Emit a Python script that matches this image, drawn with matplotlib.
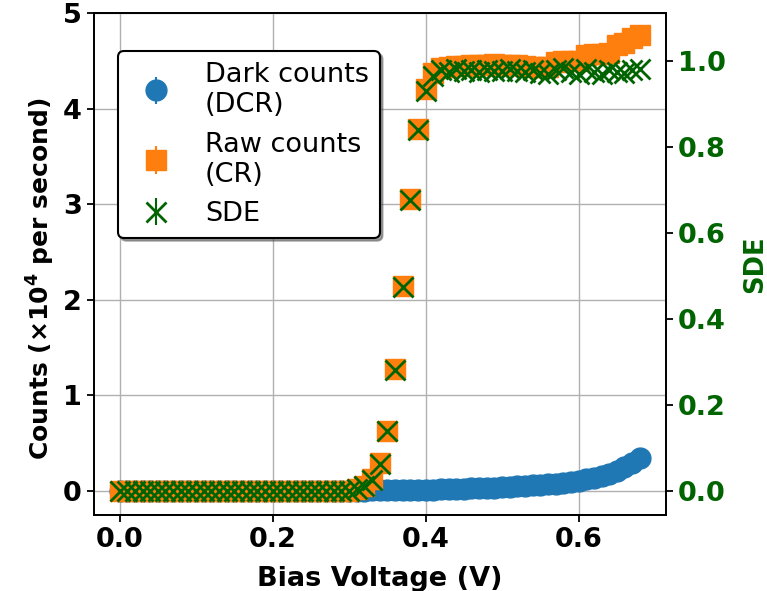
import numpy as np
import matplotlib
matplotlib.use('Agg')
import matplotlib.pyplot as plt

# bias sweep, 10 mV steps
bias_v = np.linspace(0.0, 0.68, 69)

# counts in units of 1e4 per second
dark_counts = [0.0] * 31 + [
    0.002, 0.003, 0.004, 0.005, 0.006, 0.007, 0.008, 0.009, 0.010, 0.012,
    0.014, 0.016, 0.018, 0.020, 0.022, 0.025, 0.028, 0.031, 0.035, 0.039,
    0.043, 0.047, 0.052, 0.057, 0.062, 0.068, 0.076, 0.085, 0.095, 0.106,
    0.120, 0.136, 0.155, 0.177, 0.203, 0.250, 0.290, 0.340,
]
raw_counts = [0.0] * 31 + [
    0.02, 0.05, 0.12, 0.29, 0.63, 1.27, 2.14, 3.05, 3.79, 4.20,
    4.37, 4.42, 4.44, 4.45, 4.45, 4.46, 4.46, 4.46, 4.47, 4.46,
    4.46, 4.46, 4.45, 4.43, 4.43, 4.44, 4.49, 4.50, 4.50, 4.50,
    4.56, 4.57, 4.57, 4.58, 4.67, 4.69, 4.74, 4.77,
]
sde = [0.0] * 31 + [
    0.004, 0.011, 0.026, 0.063, 0.139, 0.281, 0.474, 0.676, 0.840, 0.930,
    0.965, 0.978, 0.975, 0.980, 0.976, 0.978, 0.975, 0.979, 0.977, 0.976,
    0.980, 0.977, 0.975, 0.978, 0.972, 0.970, 0.978, 0.983, 0.975, 0.970,
    0.980, 0.975, 0.970, 0.978, 0.975, 0.972, 0.978, 0.982,
]

plt.rcParams['font.size'] = 19.5

fig, ax = plt.subplots(figsize=(7.67, 5.91), dpi=100)
fig.subplots_adjust(left=0.122, right=0.868, top=0.978, bottom=0.129)

l1 = ax.errorbar(bias_v, dark_counts, yerr=0, fmt='o', ms=15, color='C0',
                 label='Dark counts\n(DCR)')
l2 = ax.errorbar(bias_v, raw_counts, yerr=0, fmt='s', ms=15, color='C1',
                 label='Raw counts\n(CR)')
ax.set_ylim(-0.25, 5.0)
ax.set_xlabel('Bias Voltage (V)', fontweight='bold', labelpad=10)
ax.set_ylabel(r'Counts ($\mathbf{\times 10^4}$ per second)', fontweight='bold',
              fontsize=18)
ax.yaxis.label.set_y(0.47)
ax.grid(True, color='#b0b0b0', lw=1)
ax.set_axisbelow(True)

ax2 = ax.twinx()
l3 = ax2.errorbar(bias_v, sde, yerr=0, fmt='x', ms=15, mew=2, color='darkgreen',
                  label='SDE')
ax2.set_ylim(np.array(ax.get_ylim()) / 4.5)
ax2.set_ylabel('SDE', color='darkgreen', fontweight='bold', labelpad=12,
               fontsize=18.5)

for a in (ax, ax2):
    for lab in a.get_xticklabels() + a.get_yticklabels():
        lab.set_fontweight('bold')
    for sp in a.spines.values():
        sp.set_linewidth(1.3)
    a.tick_params(width=1.3, length=5)
for lab in ax2.get_yticklabels():
    lab.set_color('darkgreen')

leg = ax2.legend([l1, l2, l3], [l1.get_label(), l2.get_label(), l3.get_label()],
                 loc='upper left', bbox_to_anchor=(0.043, 0.924), borderaxespad=0,
                 shadow=True, fancybox=True, framealpha=1, edgecolor='black')
leg.get_frame().set_linewidth(1.5)

fig.savefig('out.png', dpi=100)
